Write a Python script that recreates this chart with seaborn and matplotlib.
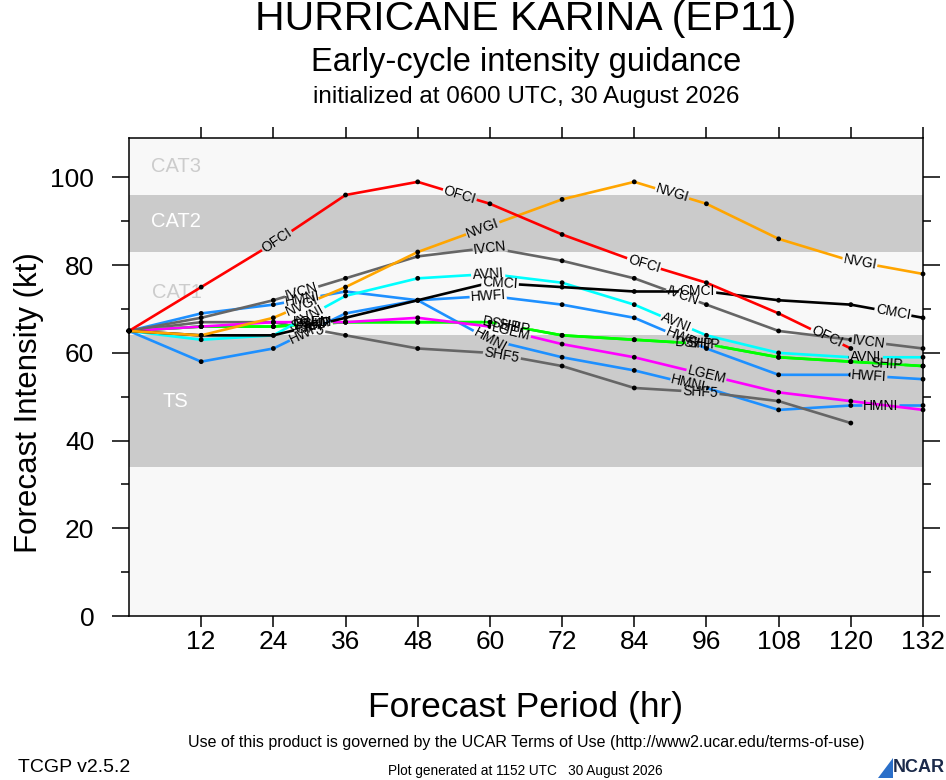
import math

import matplotlib
matplotlib.use("Agg")
import matplotlib.pyplot as plt
from matplotlib.patches import Polygon
from matplotlib.path import Path
from matplotlib.ticker import MultipleLocator
from matplotlib.transforms import IdentityTransform
from matplotlib.textpath import TextPath
from matplotlib.font_manager import FontProperties
import numpy as np
import pandas as pd
import seaborn as sns

# ── data (kt) ─────────────────────────────────────────────────────────────────
hours = [0, 12, 24, 36, 48, 60, 72, 84, 96, 108, 120, 132]

ofci = [65, 75, 85, 96, 99, 94, 87, 81, 76, 69, 61]
nvgi = [65, 64, 68, 75, 83, 89, 95, 99, 94, 86, 81, 78]
ivcn = [65, 68, 72, 77, 82, 84, 81, 77, 71, 65, 63, 61]
cmci = [65, 64, 64, 68, 72, 76, 75, 74, 74, 72, 71, 68]
avni = [65, 63, 64, 73, 77, 78, 76, 71, 64, 60, 59, 59]
hwfi = [65, 58, 61, 69, 72, 73, 71, 68, 61, 55, 55, 54]
hmni = [65, 69, 71, 74, 72, 63, 59, 56, 52, 47, 48, 48]
lgem = [65, 66, 67, 67, 68, 66, 62, 59, 55, 51, 49, 47]
ship = [65, 66, 66, 67, 67, 67, 64, 63, 62, 59, 58, 57]
dshp = [65, 66, 66, 67, 67, 67, 64, 63, 62, 59, 58, 57]
shf5 = [65, 67, 67, 64, 61, 60, 57, 52, 51, 49, 44]

series = {
    "HWFI": hwfi, "HMNI": hmni, "SHF5": shf5, "DSHP": dshp, "SHIP": ship,
    "LGEM": lgem, "AVNI": avni, "CMCI": cmci, "IVCN": ivcn, "NVGI": nvgi,
    "OFCI": ofci,
}

# intensity bands (kt)
band_lo = [0, 34, 64, 83, 96]
band_hi = [34, 64, 83, 96, 109]
band_names = ["", "TS", "CAT1", "CAT2", "CAT3"]

# ── styles ────────────────────────────────────────────────────────────────────
colors = {
    "OFCI": "#ff0000", "NVGI": "#ffa500", "IVCN": "#666666", "CMCI": "#000000",
    "AVNI": "#00ffff", "HWFI": "#1e90ff", "HMNI": "#1e90ff", "LGEM": "#ff00ff",
    "SHIP": "#00ff00", "DSHP": "#00ff00", "SHF5": "#666666",
}
label_hours = {
    "OFCI": [24.6, 55, 85.6, 116],
    "NVGI": [28.8, 58.8, 90.3, 121.5],
    "IVCN": [28.7, 60, 92, 123],
    "CMCI": [30.5, 61.7, 94.5, 127],
    "AVNI": [30, 59.7, 91, 122.5],
    "HWFI": [29.5, 59.7, 92, 123],
    "HMNI": [28.8, 60, 93, 125],
    "LGEM": [30.5, 63.5, 96],
    "SHIP": [31, 64, 95.5, 126],
    "DSHP": [30.5, 62, 94],
    "SHF5": [29.5, 62, 95],
}
band_cols = ["#f8f8f8", "#cbcbcb", "#f8f8f8", "#cbcbcb", "#f8f8f8"]
band_txt_cols = ["none", "white", "#cccccc", "white", "#cccccc"]
band_txt_pos = [None, (5.6, 48.9), (3.8, 73.8), (3.7, 89.9), (3.7, 102.4)]
LBL_FS = 10

FONT = "Liberation Sans"
rows = []
for m, vals in series.items():
    for h, v in zip(hours, vals):
        rows.append({"model": m, "hour": h, "kt": v})
df = pd.DataFrame(rows)

sns.set_theme(style="ticks")
plt.rcParams["font.family"] = [FONT, "DejaVu Sans"]

W, H, DPI = 946, 780, 100
fig = plt.figure(figsize=(W / DPI, H / DPI), dpi=DPI)
ax_l, ax_r, ax_t, ax_b = 129, 923, 138, 616
ax = fig.add_axes([ax_l / W, 1 - ax_b / H, (ax_r - ax_l) / W, (ax_b - ax_t) / H])
ax.set_xlim(0, 132)
ax.set_ylim(0, 109)
ax.set_facecolor("white")

for lo, hi, c in zip(band_lo, band_hi, band_cols):
    ax.axhspan(lo, hi, color=c, lw=0, zorder=0)
for name, pos, tc in zip(band_names, band_txt_pos, band_txt_cols):
    if name:
        ax.text(pos[0], pos[1], name, color=tc, fontsize=14.5, ha="left",
                va="center", zorder=0.5)

sx = (ax_r - ax_l) / 132.0
sy = (ax_b - ax_t) / 109.0
bb = ax.bbox
fp = FontProperties(family=FONT, size=LBL_FS)

for i, (m, vals) in enumerate(series.items()):
    sub = df[df["model"] == m]
    sns.lineplot(data=sub, x="hour", y="kt", color=colors[m], lw=1.9, ax=ax,
                 legend=False, estimator=None, sort=False, zorder=2 + i * 0.01)
    line = ax.lines[-1]
    sns.scatterplot(data=sub, x="hour", y="kt", color="black", s=12, ax=ax,
                    legend=False, edgecolor="none", zorder=3)
    dots = ax.collections[-1]

    # the line is cut where its own labels sit (clip path with holes)
    xs = np.array(hours[:len(vals)], dtype=float)
    ys = np.array(vals, dtype=float)
    pad = 8
    verts = [(bb.x0 - pad, bb.y0 - pad), (bb.x1 + pad, bb.y0 - pad),
             (bb.x1 + pad, bb.y1 + pad), (bb.x0 - pad, bb.y1 + pad),
             (bb.x0 - pad, bb.y0 - pad)]
    codes = [Path.MOVETO, Path.LINETO, Path.LINETO, Path.LINETO, Path.CLOSEPOLY]
    for h in label_hours[m]:
        y = float(np.interp(h, xs, ys))
        k = min(max(int(np.searchsorted(xs, h)), 1), len(xs) - 1)
        ang = math.degrees(math.atan2((ys[k] - ys[k - 1]) * sy,
                                      (xs[k] - xs[k - 1]) * sx))
        ax.text(h, y, m, rotation=ang, rotation_mode="anchor", ha="center",
                va="center", fontsize=LBL_FS, color="black", zorder=5)
        cx, cy = ax.transData.transform((h, y))
        half = TextPath((0, 0), m, prop=fp).get_extents().width * DPI / 72 / 2 + 2
        hh = 6
        ca, sa = math.cos(math.radians(ang)), math.sin(math.radians(ang))
        ux, uy, vx, vy = ca * half, sa * half, -sa * hh, ca * hh
        verts += [(cx - ux + vx, cy - uy + vy), (cx + ux + vx, cy + uy + vy),
                  (cx + ux - vx, cy + uy - vy), (cx - ux - vx, cy - uy - vy),
                  (cx - ux + vx, cy - uy + vy)]
        codes += [Path.MOVETO, Path.LINETO, Path.LINETO, Path.LINETO, Path.CLOSEPOLY]
    clip = Path(verts, codes)
    for art in (line, dots):
        art.set_clip_box(None)
        art.set_clip_path(clip, IdentityTransform())

# ── axes styling ──────────────────────────────────────────────────────────────
ax.set_xticks(range(12, 133, 12))
ax.set_yticks(range(0, 101, 20))
ax.yaxis.set_minor_locator(MultipleLocator(10))
ax.tick_params(which="both", direction="out", top=True, right=True,
               color="black", width=1.1)
ax.tick_params(which="major", length=12, labelsize=19, labelcolor="black")
ax.tick_params(which="minor", length=6)
ax.tick_params(axis="y", which="major", pad=13)
ax.tick_params(axis="x", which="major", length=8, pad=2)
for sp in ax.spines.values():
    sp.set_color("black")
    sp.set_linewidth(1.1)
    sp.set_zorder(6)
ax.set_xlabel("")
ax.set_ylabel("")

# ── titles, axis titles and footer ────────────────────────────────────────────
cx_fig = (ax_l + ax_r) / 2 / W
fig.text(cx_fig, 1 - 708 / H, "Forecast Period (hr)", fontsize=25.5,
         ha="center", va="center", color="black")
fig.text(29 / W, 1 - 403 / H, "Forecast Intensity (kt)", fontsize=22.5,
         rotation=90, ha="center", va="center", color="black")
fig.text(cx_fig, 1 - 19 / H, "HURRICANE KARINA (EP11)", fontsize=29.5,
         ha="center", va="center", color="black")
fig.text(cx_fig, 1 - 62 / H, "Early-cycle intensity guidance", fontsize=23.5,
         ha="center", va="center", color="black")
fig.text(cx_fig, 1 - 97 / H, "initialized at 0600 UTC, 30 August 2026",
         fontsize=17.5, ha="center", va="center", color="black")
fig.text(cx_fig, 1 - 742 / H,
         "Use of this product is governed by the UCAR Terms of Use "
         "(http://www2.ucar.edu/terms-of-use)",
         fontsize=11.5, ha="center", va="center", color="black")
fig.text(18 / W, 1 - 767 / H, "TCGP v2.5.2", fontsize=14, ha="left",
         va="center", color="black")
fig.text(388 / W, 1 - 771 / H, "Plot generated at 1152 UTC   30 August 2026",
         fontsize=9.8, ha="left", va="center", color="black")
fig.text(893 / W, 1 - 768 / H, "NCAR", fontsize=13, fontweight="bold",
         ha="left", va="center", color="#1b2a4a")
fig.patches.append(Polygon([(878 / W, 1 - 778 / H), (893 / W, 1 - 778 / H),
                            (893 / W, 1 - 758 / H)], closed=True,
                           transform=fig.transFigure, color="#2a6fc9", lw=0))

fig.savefig("out.png", dpi=DPI)
